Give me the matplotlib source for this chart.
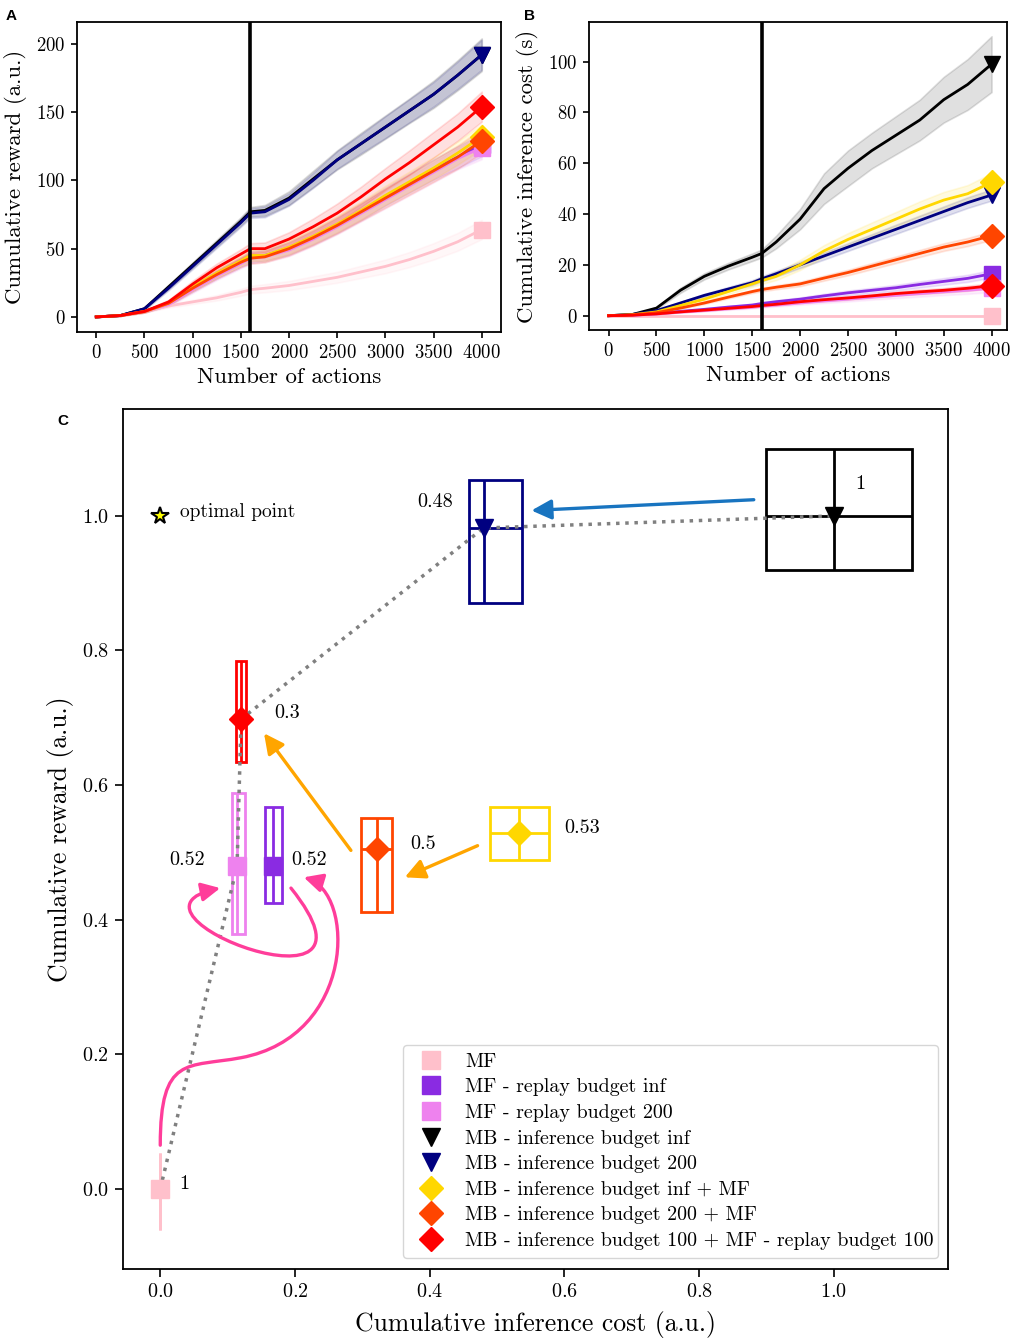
import matplotlib.pyplot as plt
import numpy as np
from matplotlib.patches import Rectangle, FancyArrowPatch
from matplotlib.path import Path
from matplotlib.lines import Line2D

plt.rcParams['font.family'] = 'serif'
plt.rcParams['font.serif'] = ['cmr10']
plt.rcParams['mathtext.fontset'] = 'cm'
plt.rcParams['axes.formatter.use_mathtext'] = True
plt.rcParams['axes.unicode_minus'] = False
plt.rcParams['axes.linewidth'] = 1.3
plt.rcParams['xtick.major.width'] = 1.2
plt.rcParams['ytick.major.width'] = 1.2

keys = ['mf', 'mf_rep_inf', 'mf_rep_200', 'mb_inf', 'mb_200',
        'mb_inf_mf', 'mb_200_mf', 'mb_100_mf_100']
labels = ['MF', 'MF - replay budget inf', 'MF - replay budget 200',
          'MB - inference budget inf', 'MB - inference budget 200',
          'MB - inference budget inf + MF', 'MB - inference budget 200 + MF',
          'MB - inference budget 100 + MF - replay budget 100']
colors = ['pink', 'blueviolet', 'violet', 'black', 'navy',
          'gold', 'orangered', 'red']
markers = ['s', 's', 's', 'v', 'v', 'D', 'D', 'D']

# panels A and B: curves over the number of actions
actions = [0, 250, 500, 750, 1000, 1250, 1500, 1600, 1750, 2000,
           2250, 2500, 2750, 3000, 3250, 3500, 3750, 4000]
switch_action = 1600

reward_mean = {
    'mf':            [0, 1, 4, 8, 11, 14, 18, 20, 21, 23, 26, 29, 33, 37, 42, 48, 55, 64],
    'mf_rep_inf':    [0, 1, 4, 10, 21, 31, 40, 44, 45, 50, 58, 67, 77, 88, 98, 108, 117, 126],
    'mf_rep_200':    [0, 1, 4, 9, 20, 30, 39, 43, 44, 49, 57, 66, 76, 86, 96, 106, 116, 124],
    'mb_inf':        [0, 1, 6, 22, 38, 54, 70, 77, 78, 87, 101, 115, 127, 139, 151, 163, 177, 192],
    'mb_200':        [0, 1, 6, 21, 37, 53, 69, 76, 77, 86, 100, 115, 127, 139, 151, 163, 177, 192],
    'mb_inf_mf':     [0, 1, 4, 10, 22, 32, 41, 45, 45, 51, 59, 68, 78, 89, 99, 109, 120, 132],
    'mb_200_mf':     [0, 1, 4, 10, 21, 31, 40, 43, 44, 50, 58, 67, 77, 87, 97, 107, 117, 129],
    'mb_100_mf_100': [0, 1, 4, 11, 24, 36, 46, 50, 50, 57, 66, 76, 88, 101, 113, 126, 139, 154],
}
reward_sd = {
    'mf':            [0, 0.3, 0.8, 1.2, 1.5, 2, 2.5, 2.8, 3, 3.3, 3.7, 4, 4.5, 5, 5.5, 6, 6.5, 7],
    'mf_rep_inf':    [0, 0.3, 0.8, 1.5, 2.5, 3, 3.5, 4, 4, 4.5, 5, 5.5, 6, 6.5, 7, 7.5, 8, 8.5],
    'mf_rep_200':    [0, 0.3, 0.8, 1.5, 2.5, 3, 3.5, 4, 4, 4.5, 5, 5.5, 6, 6.5, 7, 7.5, 8, 8.5],
    'mb_inf':        [0, 0.3, 0.8, 1.5, 2, 2.5, 3, 3.5, 4, 5, 6, 7, 8, 8.5, 9, 10, 11, 12],
    'mb_200':        [0, 0.3, 0.8, 1.5, 2, 2.5, 3, 3.5, 4, 4.5, 5.5, 6.5, 7, 8, 8.5, 9, 10, 11],
    'mb_inf_mf':     [0, 0.3, 0.8, 1.5, 2.5, 3, 3.5, 4, 4, 5, 5.5, 6, 6.5, 7, 7.5, 8, 8.5, 9],
    'mb_200_mf':     [0, 0.3, 0.8, 1.5, 2.5, 3, 3.5, 4, 4, 5, 5.5, 6, 6.5, 7, 7.5, 8, 8.5, 9],
    'mb_100_mf_100': [0, 0.3, 0.8, 1.5, 2.5, 3, 3.5, 4, 4.5, 5, 6, 7, 7.5, 8, 9, 9.5, 10, 11],
}

cost_mean = {
    'mf':            [0] * 18,
    'mf_rep_inf':    [0, 0.2, 0.8, 1.7, 2.5, 3.4, 4.2, 4.8, 5.5, 6.5, 7.8, 9, 10, 11, 12.3, 13.5, 14.7, 16.5],
    'mf_rep_200':    [0, 0.2, 0.6, 1.4, 2.0, 2.7, 3.3, 3.7, 4.2, 5, 5.8, 6.5, 7.3, 8, 8.7, 9.4, 10, 10.8],
    'mb_inf':        [0, 0.5, 3, 10, 15.5, 19.5, 23, 24.5, 29, 38, 50, 58, 65, 71, 77, 85, 91, 99],
    'mb_200':        [0, 0.5, 2, 5, 8, 10.5, 13, 14.5, 16.5, 20, 23.5, 27, 30.5, 34, 37.5, 41, 44.5, 47.5],
    'mb_inf_mf':     [0, 0.4, 1.5, 4, 6.5, 9.5, 12.5, 13.8, 15.5, 20, 25.5, 30, 34, 38, 42, 45.5, 48, 52.5],
    'mb_200_mf':     [0, 0.3, 1.2, 3, 5, 7.3, 9.5, 10.3, 11.2, 12.5, 14.8, 17, 19.5, 22, 24.5, 27, 29, 31.5],
    'mb_100_mf_100': [0, 0.2, 0.7, 1.5, 2.2, 2.9, 3.6, 4, 4.5, 5.5, 6.3, 7, 7.8, 8.7, 9.4, 10, 10.8, 11.8],
}
cost_sd = {
    'mf':            [0] * 18,
    'mf_rep_inf':    [0, 0.05, 0.1, 0.2, 0.3, 0.4, 0.5, 0.5, 0.6, 0.7, 0.8, 0.9, 1, 1.1, 1.2, 1.3, 1.4, 1.5],
    'mf_rep_200':    [0, 0.05, 0.1, 0.2, 0.3, 0.4, 0.5, 0.5, 0.6, 0.7, 0.8, 0.9, 1, 1.1, 1.2, 1.3, 1.4, 1.5],
    'mb_inf':        [0, 0.1, 0.4, 1, 1.2, 1.3, 1.5, 1.6, 2.5, 4, 6, 7, 7, 7.5, 8, 9, 10, 11],
    'mb_200':        [0, 0.05, 0.2, 0.4, 0.6, 0.8, 1, 1, 1.1, 1.2, 1.4, 1.5, 1.6, 1.8, 1.9, 2, 2.1, 2.2],
    'mb_inf_mf':     [0, 0.1, 0.3, 0.6, 0.8, 1, 1.2, 1.3, 1.5, 2, 2.3, 2.5, 2.7, 2.8, 3, 3.2, 3.4, 3.6],
    'mb_200_mf':     [0, 0.05, 0.2, 0.3, 0.4, 0.5, 0.6, 0.7, 0.8, 0.9, 1, 1.1, 1.2, 1.3, 1.4, 1.5, 1.6, 1.7],
    'mb_100_mf_100': [0, 0.05, 0.1, 0.2, 0.3, 0.3, 0.4, 0.4, 0.5, 0.5, 0.6, 0.7, 0.7, 0.8, 0.9, 0.9, 1, 1],
}

# panel C: normalised cost / reward with error boxes
c_cost = [0.0, 0.168, 0.114, 1.0, 0.480, 0.532, 0.321, 0.120]
c_reward = [0.0, 0.48, 0.48, 1.0, 0.982, 0.5285, 0.505, 0.698]
c_cost_lo = [0.0, 0.155, 0.107, 0.899, 0.459, 0.490, 0.298, 0.112]
c_cost_hi = [0.0, 0.181, 0.126, 1.116, 0.537, 0.577, 0.344, 0.128]
c_reward_lo = [-0.061, 0.425, 0.379, 0.920, 0.871, 0.488, 0.411, 0.635]
c_reward_hi = [0.053, 0.567, 0.589, 1.100, 1.053, 0.567, 0.551, 0.784]
c_notes = ['1', '0.52', '0.52', '1', '0.48', '0.53', '0.5', '0.3']
c_note_pos = [(0.028, 0.008, 'left'), (0.066, 0.489, 'right'), (0.194, 0.489, 'left'),
              (1.032, 1.047, 'left'), (0.434, 1.021, 'right'), (0.60, 0.536, 'left'),
              (0.371, 0.513, 'left'), (0.169, 0.707, 'left')]
frontier = ['mf', 'mf_rep_200', 'mb_100_mf_100', 'mb_200', 'mb_inf']
optimal = (0.0, 1.0)

# straight arrows (tail, tip, colour)
arrows = [((0.881, 1.024), (0.551, 1.008), '#1874c0'),
          ((0.283, 0.503), (0.154, 0.677), 'orange'),
          ((0.471, 0.510), (0.363, 0.463), 'orange')]
# curved arrows as cubic bezier control points
loop_arrow = [(0.194, 0.447), (0.36, 0.24), (-0.09, 0.41), (0.089, 0.447)]
long_arrow = [(0.0, 0.065), (0.0, 0.20), (0.04, 0.18), (0.12, 0.195),
              (0.29, 0.227), (0.29, 0.44), (0.213, 0.463)]
curve_color = '#ff3d9a'


fig = plt.figure(figsize=(10.13, 13.39), dpi=100)
axA = fig.add_axes([0.0760, 0.7521, 0.4186, 0.2315])
axB = fig.add_axes([0.5814, 0.7536, 0.4126, 0.2300])
axC = fig.add_axes([0.1211, 0.0521, 0.8144, 0.6423])


def draw_curves(ax, means, sds):
    x = np.array(actions)
    for k, c, m in zip(keys, colors, markers):
        mu = np.array(means[k], dtype=float)
        sd = np.array(sds[k], dtype=float)
        ax.fill_between(x, mu - sd, mu + sd, color=c, alpha=0.12, lw=1.2)
        ax.plot(x, mu, color=c, lw=2)
        ax.plot(x[-1], mu[-1], marker=m, color=c, ms=12, mec=c, ls='none')
    ax.axvline(switch_action, color='black', lw=2.6, zorder=5)
    ax.set_xticks(range(0, 4001, 500))
    ax.tick_params(labelsize=13.5, length=4.5, pad=4)
    ax.set_xlabel('Number of actions', fontsize=16.5)


draw_curves(axA, reward_mean, reward_sd)
axA.set_xlim(-200, 4200)
axA.set_ylim(-11, 216)
axA.set_yticks(range(0, 201, 50))
axA.set_ylabel('Cumulative reward (a.u.)', fontsize=16.5, labelpad=6)

draw_curves(axB, cost_mean, cost_sd)
axB.set_xlim(-205, 4160)
axB.set_ylim(-5.6, 115.6)
axB.set_yticks(range(0, 101, 20))
axB.set_ylabel('Cumulative inference cost (s)', fontsize=16.5, labelpad=6)

# panel C
for i, (k, c, m) in enumerate(zip(keys, colors, markers)):
    x, y = c_cost[i], c_reward[i]
    axC.add_patch(Rectangle((c_cost_lo[i], c_reward_lo[i]),
                            c_cost_hi[i] - c_cost_lo[i],
                            c_reward_hi[i] - c_reward_lo[i],
                            fill=False, ec=c, lw=2, zorder=2))
    axC.errorbar([x], [y], xerr=[[x - c_cost_lo[i]], [c_cost_hi[i] - x]],
                 yerr=[[y - c_reward_lo[i]], [c_reward_hi[i] - y]],
                 fmt='none', ecolor=c, elinewidth=2, capsize=0, zorder=2)
    axC.plot(x, y, marker=m, color=c, mec=c, ms=12.5, ls='none', zorder=4)
    tx, ty, ha = c_note_pos[i]
    axC.text(tx, ty, c_notes[i], fontsize=14.5, ha=ha, va='center')

fx = [c_cost[keys.index(k)] for k in frontier]
fy = [c_reward[keys.index(k)] for k in frontier]
axC.plot(fx, fy, ls=':', color='grey', lw=2.5, zorder=3)

axC.plot(*optimal, marker='*', ms=13, mfc='yellow', mec='black', mew=1.5, ls='none')
axC.text(optimal[0] + 0.03, optimal[1] + 0.006, 'optimal point', fontsize=14,
         ha='left', va='center')

for tail, tip, c in arrows:
    axC.annotate('', xy=tip, xytext=tail,
                 arrowprops=dict(arrowstyle='-|>', color=c, lw=2.4,
                                 mutation_scale=30, shrinkA=0, shrinkB=0))

loop_path = Path(loop_arrow, [Path.MOVETO] + [Path.CURVE4] * 3)
long_path = Path(long_arrow, [Path.MOVETO] + [Path.CURVE4] * 6)
for p in (loop_path, long_path):
    axC.add_patch(FancyArrowPatch(path=p, arrowstyle='-|>', color=curve_color,
                                  lw=2.4, mutation_scale=28, zorder=3))

handles = [Line2D([], [], ls='none', marker=m, color=c, mec=c, ms=12.5)
           for c, m in zip(colors, markers)]
axC.legend(handles, labels, loc='lower left', fontsize=14.4, mode='expand',
           bbox_to_anchor=(0.3398, 0.0131, 0.6485, 0.3), borderaxespad=0,
           labelspacing=0.38, handletextpad=0.7)

axC.set_xlim(-0.0558, 1.1688)
axC.set_ylim(-0.1193, 1.1585)
axC.set_xticks(np.arange(0, 1.01, 0.2))
axC.set_yticks(np.arange(0, 1.01, 0.2))
axC.tick_params(labelsize=14.5, length=5.5, pad=4.5)
axC.set_xlabel('Cumulative inference cost (a.u.)', fontsize=18.5, labelpad=7)
axC.set_ylabel('Cumulative reward (a.u.)', fontsize=18.5, labelpad=5.5)

for lab, (fx_, fy_) in zip('ABC', [(0.006, 0.9935), (0.5175, 0.9935), (0.057, 0.6905)]):
    fig.text(fx_, fy_, lab, fontsize=11, fontweight='bold',
             family='Liberation Sans', ha='left', va='top')

fig.savefig('out.png', dpi=100)
